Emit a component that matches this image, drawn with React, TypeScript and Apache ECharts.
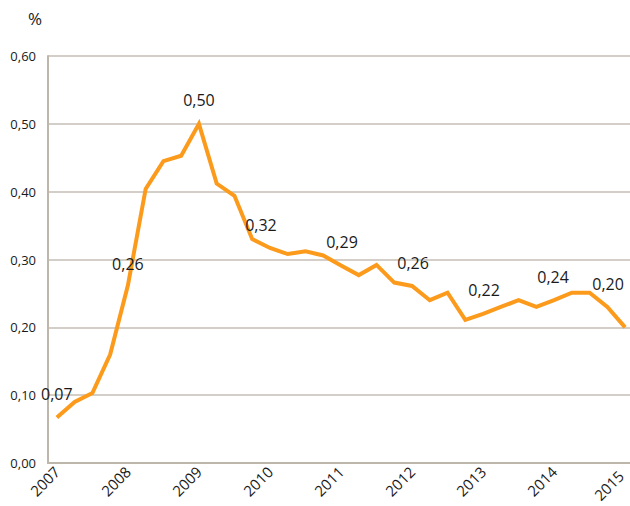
import React, { useEffect, useRef } from "react";
import * as echarts from "echarts";

const years = [2007, 2008, 2009, 2010, 2011, 2012, 2013, 2014, 2015];
const quarterLabels = ["K1", "K2", "K3", "K4"];
const values = [
  0.067, 0.09, 0.103, 0.16,
  0.262, 0.404, 0.445, 0.453,
  0.5, 0.412, 0.394, 0.33,
  0.317, 0.308, 0.312, 0.306,
  0.291, 0.277, 0.292, 0.266,
  0.261, 0.24, 0.251, 0.211,
  0.22, 0.23, 0.24, 0.23,
  0.24, 0.251, 0.251, 0.23,
  0.2,
];
const yTicks = { min: 0, max: 0.6, interval: 0.1 };
const labelledIdx = [0, 4, 8, 12, 16, 20, 24, 28, 32];

const categories: string[] = [];
years.forEach((y, i) => {
  const n = i === years.length - 1 ? 1 : 4;
  for (let q = 0; q < n; q++) categories.push(`${y} ${quarterLabels[q]}`);
});

// label placement relative to the point (pixels)
const labelPos: Record<number, number[]> = {
  0: [0, -24],
  4: [0, -21],
  8: [0, -24],
  12: [-9, -23],
  16: [1, -24],
  20: [1, -23],
  24: [1, -24],
  28: [-1, -23],
  32: [-17, -43],
};

const fmt = (v: number) => v.toFixed(2).replace(".", ",");

export default function App() {
  const ref = useRef<HTMLDivElement>(null);
  useEffect(() => {
    document.body.style.margin = "0";
    const chart = echarts.init(ref.current!, null, { renderer: "svg" });
    const font = "'Open Sans', 'Noto Sans', sans-serif";
    const data = values.map((v, i) => {
      if (labelledIdx.includes(i)) {
        return {
          value: v,
          label: {
            show: true,
            position: labelPos[i] || [0, -24],
            align: "center",
            verticalAlign: "middle",
            formatter: fmt(v),
            fontSize: 16,
            color: "#1a1a1a",
            fontFamily: font,
          },
        };
      }
      return v;
    });
    const catData = categories.map((c, i) =>
      i === categories.length - 1
        ? { value: c, textStyle: { padding: [0, 6, 0, 0] } }
        : c
    );
    chart.setOption({
      animation: false,
      textStyle: { fontFamily: font },
      grid: {
        left: 48,
        right: -4,
        top: 56,
        bottom: 43,
        containLabel: false,
        outerBoundsMode: "none",
      },
      graphic: [
        {
          type: "text",
          left: 28,
          top: 10,
          style: { text: "%", fontSize: 17, fill: "#1a1a1a", fontFamily: font },
        },
      ],
      xAxis: {
        type: "category",
        data: catData,
        boundaryGap: true,
        axisLine: { lineStyle: { color: "#bdb6ab", width: 2 } },
        axisTick: { show: false },
        axisLabel: {
          interval: 3,
          rotate: 45,
          fontSize: 15,
          color: "#1a1a1a",
          margin: 6,
          fontFamily: font,
          formatter: (s: string) => s.split(" ")[0],
        },
        splitLine: { show: false },
      },
      yAxis: {
        type: "value",
        min: yTicks.min,
        max: yTicks.max,
        interval: yTicks.interval,
        axisLine: { show: true, lineStyle: { color: "#bdb6ab", width: 2 } },
        axisTick: { show: false },
        axisLabel: {
          fontSize: 13,
          color: "#1a1a1a",
          margin: 12,
          fontFamily: font,
          formatter: (v: number) => fmt(v),
        },
        splitLine: { lineStyle: { color: "#c4beb4", width: 1.5 } },
      },
      series: [
        {
          type: "line",
          data,
          symbol: "circle",
          symbolSize: 0,
          showAllSymbol: true,
          lineStyle: { color: "#fc9a1c", width: 4, join: "miter" },
          itemStyle: { color: "#fc9a1c" },
          labelLayout: { hideOverlap: false },
        },
      ],
    });
    return () => chart.dispose();
  }, []);
  return <div ref={ref} style={{ width: 630, height: 506 }} />;
}
